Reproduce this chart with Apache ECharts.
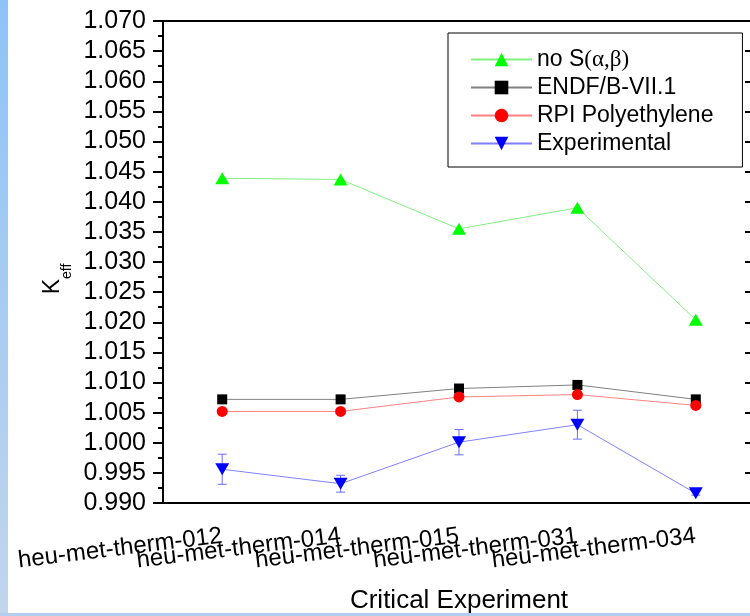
<!DOCTYPE html>
<html>
<head>
<meta charset="utf-8" />
<title>Keff vs critical experiment</title>
<style>
	html, body { margin: 0; padding: 0; background: #ffffff; }
	#stripLeft { position: absolute; left: 0; top: 0; width: 8px; height: 616px;
		background: linear-gradient(#8ec3f7, #c2d5ec); }
	#stripBottom { position: absolute; left: 0; top: 613px; width: 750px; height: 3px; background: #b3cdee; }
	#chart { position: absolute; left: 0; top: 0; width: 750px; height: 616px; }
</style>
<script src="https://cdn.jsdelivr.net/npm/echarts@6.0.0/dist/echarts.min.js"></script>
</head>
<body>
<div id="stripLeft"></div>
<div id="stripBottom"></div>
<div id="chart"></div>
<script>
	// categories on the x axis
	const categories = ['heu-met-therm-012', 'heu-met-therm-014', 'heu-met-therm-015', 'heu-met-therm-031', 'heu-met-therm-034'];
	const seriesNames = ['no S(α,β)', 'ENDF/B-VII.1', 'RPI Polyethylene', 'Experimental'];

	// keff values
	const noSab = [1.0439, 1.0437, 1.0355, 1.0390, 1.0204];
	const endf = [1.0072, 1.0072, 1.0090, 1.0096, 1.0072];
	const rpi = [1.0052, 1.0052, 1.0076, 1.0080, 1.0062];
	const experimental = [0.9956, 0.9932, 1.0001, 1.0030, 0.9916];
	const expError = [0.0025, 0.0014, 0.0021, 0.0024, 0.0003];

	const yMin = 0.990, yMax = 1.070, yStep = 0.005;

	const FONT = '"Liberation Sans", Arial, sans-serif';
	const chart = echarts.init(document.getElementById('chart'));

	const errData = experimental.map(function (v, i) {
		return [i, v - expError[i], v + expError[i]];
	});

	const hidden = { show: false };

	const option = {
		animation: false,
		grid: { left: 163, top: 21, right: -5, bottom: 113, outerBoundsMode: 'none' },
		legend: {
			orient: 'vertical',
			left: 448, top: 33,
			padding: [15, 29, 12, 22],
			itemGap: 5,
			itemWidth: 61, itemHeight: 17,
			borderColor: '#000', borderWidth: 1,
			data: seriesNames,
			formatter: function (name) {
				return name === seriesNames[0] ? 'no S{g|(α,β)}' : name;
			},
			textStyle: {
				fontFamily: FONT, fontSize: 23, color: '#000',
				rich: { g: { fontFamily: '"Liberation Serif", "DejaVu Serif", serif', fontSize: 23, color: '#000' } }
			}
		},
		xAxis: [{
			type: 'category',
			data: categories,
			name: 'Critical Experiment',
			nameLocation: 'middle',
			nameGap: 85,
			nameMoveOverlap: false,
			nameTextStyle: { fontFamily: FONT, fontSize: 26, color: '#000' },
			axisLine: { lineStyle: { color: '#000', width: 2 } },
			axisTick: { alignWithLabel: true, length: 10, lineStyle: { color: '#000', width: 2 } },
			axisLabel: { rotate: 7, margin: 33, interval: 0, fontFamily: FONT, fontSize: 24, color: '#000' },
			splitLine: hidden
		}, {
			type: 'category',
			data: categories,
			position: 'top',
			axisLine: { lineStyle: { color: '#000', width: 2 } },
			axisTick: { alignWithLabel: true, inside: true, length: 10, lineStyle: { color: '#000', width: 2 } },
			axisLabel: hidden,
			splitLine: hidden
		}],
		yAxis: [{
			type: 'value',
			min: yMin, max: yMax, interval: yStep,
			name: '{k|K}{s|eff}',
			nameLocation: 'middle',
			nameGap: 99,
			nameMoveOverlap: false,
			nameTextStyle: {
				fontFamily: FONT, color: '#000',
				rich: {
					k: { fontFamily: FONT, fontSize: 23, lineHeight: 23, verticalAlign: 'top', color: '#000' },
					s: { fontFamily: FONT, fontSize: 14, lineHeight: 14, verticalAlign: 'top', padding: [19, 34, 0, 0], color: '#000' }
				}
			},
			axisLine: { show: true, lineStyle: { color: '#000', width: 2 } },
			axisTick: { show: true, length: 10, lineStyle: { color: '#000', width: 2 } },
			minorTick: { show: true, splitNumber: 2, length: 5, lineStyle: { color: '#000', width: 2 } },
			axisLabel: {
				margin: 17, fontFamily: FONT, fontSize: 25, color: '#000',
				formatter: function (v) { return v.toFixed(3); }
			},
			splitLine: hidden
		}, {
			type: 'value',
			min: yMin, max: yMax, interval: yStep,
			position: 'right',
			axisLine: { show: false },
			axisTick: { show: true, inside: true, length: 10, lineStyle: { color: '#000', width: 2 } },
			axisLabel: hidden,
			splitLine: hidden
		}],
		series: [{
			name: seriesNames[0], type: 'line', data: noSab,
			symbol: 'triangle', symbolSize: [14, 12],
			itemStyle: { color: '#00ff00' },
			lineStyle: { color: '#80f080', width: 1 }
		}, {
			name: seriesNames[1], type: 'line', data: endf,
			symbol: 'rect', symbolSize: 10,
			itemStyle: { color: '#000000' },
			lineStyle: { color: '#808080', width: 1 }
		}, {
			name: seriesNames[2], type: 'line', data: rpi,
			symbol: 'circle', symbolSize: 11,
			itemStyle: { color: '#ff0000' },
			lineStyle: { color: '#ff8080', width: 1 }
		}, {
			name: 'expError', type: 'custom', data: errData, z: 1,
			renderItem: function (params, api) {
				const lo = api.coord([api.value(0), api.value(1)]);
				const hi = api.coord([api.value(0), api.value(2)]);
				const w = 4.5;
				const st = { stroke: '#6a6aff', lineWidth: 1 };
				return {
					type: 'group',
					children: [
						{ type: 'line', shape: { x1: lo[0], y1: lo[1], x2: hi[0], y2: hi[1] }, style: st },
						{ type: 'line', shape: { x1: lo[0] - w, y1: lo[1], x2: lo[0] + w, y2: lo[1] }, style: st },
						{ type: 'line', shape: { x1: hi[0] - w, y1: hi[1], x2: hi[0] + w, y2: hi[1] }, style: st }
					]
				};
			}
		}, {
			name: seriesNames[3], type: 'line', data: experimental, z: 3,
			symbol: 'triangle', symbolRotate: 180, symbolSize: [14, 12],
			itemStyle: { color: '#0000ff' },
			lineStyle: { color: '#8080ff', width: 1 }
		}]
	};

	chart.setOption(option);
	window.onresize = function () {
		chart.resize();
	};
</script>
</body>
</html>
